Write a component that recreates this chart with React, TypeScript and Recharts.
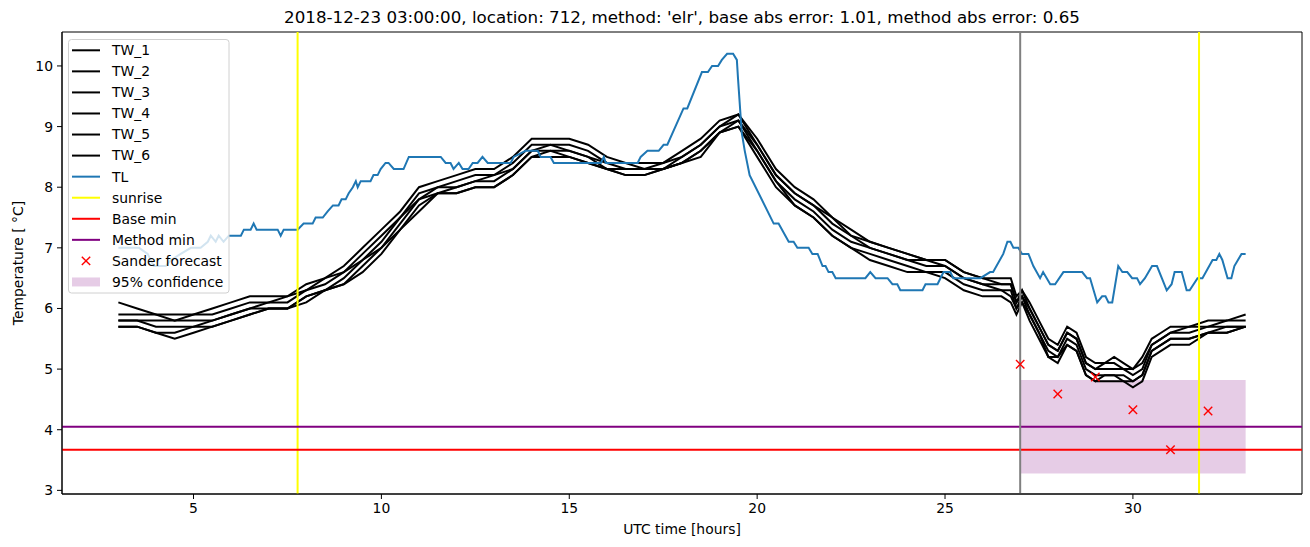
import React from "react";
import {
  ComposedChart,
  Line,
  Scatter,
  XAxis,
  YAxis,
  ReferenceLine,
  ReferenceArea,
} from "recharts";

// ─── Data ────────────────────────────────────────────────────────────────────

const FONT = "DejaVu Sans";

const xTicks = [5, 10, 15, 20, 25, 30];
const yTicks = [3, 4, 5, 6, 7, 8, 9, 10];

// TL: air temperature
const tlHours = [
  3.0, 3.28, 3.55, 3.78, 3.94, 4.26, 4.4, 4.66, 4.93, 5.19, 5.38, 5.46, 5.59, 5.67, 5.8, 5.94,
  6.26, 6.34, 6.52, 6.6, 6.68, 7.24, 7.32, 7.4, 7.77, 7.93, 8.17, 8.25, 8.44, 8.57, 8.71, 8.86,
  8.94, 9.05, 9.13, 9.24, 9.32, 9.37, 9.45, 9.71, 9.79, 9.9, 9.98, 10.11, 10.19, 10.33, 10.59,
  10.73, 11.58, 11.71, 11.84, 11.92, 12.06, 12.16, 12.32, 12.43, 12.56, 12.69, 12.83, 13.44,
  13.52, 13.84, 14.16, 14.24, 14.5, 14.59, 15.84, 15.92, 15.97, 16.82, 16.9, 17.08, 17.38, 17.51,
  17.61, 18.04, 18.14, 18.53, 18.69, 18.8, 18.96, 19.06, 19.2, 19.36, 19.46, 19.49, 19.59, 19.67,
  19.8, 20.44, 20.57, 20.84, 20.97, 21.07, 21.37, 21.47, 21.61, 21.74, 21.82, 21.9, 22.0, 22.09,
  22.88, 23.01, 23.15, 23.47, 23.6, 23.73, 23.81, 24.4, 24.48, 24.8, 24.96, 25.14, 25.22, 25.94,
  26.2, 26.28, 26.55, 26.66, 26.74, 26.82, 26.95, 27.05, 27.22, 27.35, 27.53, 27.61, 27.8, 27.93,
  28.15, 28.65, 28.78, 28.86, 29.05, 29.18, 29.27, 29.35, 29.45, 29.61, 29.72, 29.85, 29.98,
  30.11, 30.19, 30.32, 30.51, 30.64, 30.77, 30.9, 31.03, 31.11, 31.3, 31.43, 31.51, 31.72, 31.85,
  32.12, 32.22, 32.3, 32.38, 32.52, 32.62, 32.7, 32.89, 33.0,
];
const tlValues = [
  7.0, 7.0, 7.0, 6.9, 6.7, 6.7, 6.8, 6.9, 7.0, 7.0, 7.1, 7.2, 7.1, 7.2, 7.1, 7.2,
  7.2, 7.3, 7.3, 7.4, 7.3, 7.3, 7.2, 7.3, 7.3, 7.4, 7.4, 7.5, 7.5, 7.6, 7.7, 7.7,
  7.8, 7.8, 7.9, 8.0, 8.1, 8.0, 8.1, 8.1, 8.2, 8.2, 8.3, 8.4, 8.4, 8.3, 8.3,
  8.5, 8.5, 8.4, 8.4, 8.3, 8.4, 8.3, 8.3, 8.4, 8.4, 8.5, 8.4, 8.4,
  8.5, 8.6, 8.6, 8.5, 8.5, 8.4, 8.4, 8.5, 8.4, 8.4, 8.5, 8.6, 8.6, 8.7,
  8.7, 9.3, 9.3, 9.9, 9.9, 10.0, 10.0, 10.1, 10.2, 10.2, 10.1, 9.8, 8.9, 8.6,
  8.2, 7.4, 7.4, 7.1, 7.1, 7.0, 7.0, 6.9, 6.9, 6.7, 6.7, 6.6, 6.6, 6.5,
  6.5, 6.6, 6.5, 6.5, 6.4, 6.4, 6.3, 6.3, 6.4, 6.4, 6.6, 6.6, 6.5, 6.5,
  6.6, 6.6, 6.9, 7.1, 7.1, 7.0, 7.0, 6.9, 6.9, 6.7, 6.5, 6.6, 6.4, 6.4,
  6.6, 6.6, 6.5, 6.5, 6.1, 6.2, 6.2, 6.1, 6.1, 6.7, 6.6, 6.6, 6.5,
  6.5, 6.4, 6.5, 6.7, 6.7, 6.5, 6.3, 6.4, 6.6, 6.6, 6.3, 6.3, 6.5, 6.5,
  6.8, 6.8, 6.9, 6.8, 6.5, 6.5, 6.7, 6.9, 6.9,
];

// TW_1 … TW_6: road temperatures
const twHours = [
  3, 3.5, 4, 4.5, 5, 5.5, 6, 6.5, 7, 7.5, 8, 8.5, 9, 9.5, 10, 10.5, 11, 11.5, 12, 12.5, 13, 13.5,
  14, 14.5, 15, 15.5, 16, 16.5, 17, 17.5, 18, 18.5, 19, 19.5, 20, 20.5, 21, 21.5, 22, 22.5, 23,
  23.5, 24, 24.5, 25, 25.5, 26, 26.5, 26.75, 26.9, 27.05, 27.25, 27.5, 27.75, 28, 28.25, 28.5,
  28.75, 29, 29.25, 29.5, 29.75, 30, 30.25, 30.5, 30.75, 31, 31.5, 32, 32.5, 33,
];
const tw1 = [
  6.1, 6.0, 5.9, 5.9, 5.9, 6.0, 6.1, 6.2, 6.2, 6.2, 6.4, 6.5, 6.7, 7.0, 7.3, 7.6, 8.0, 8.1, 8.2, 8.3, 8.3, 8.5,
  8.8, 8.8, 8.8, 8.7, 8.5, 8.4, 8.4, 8.4, 8.6, 8.8, 9.1, 9.2, 8.8, 8.3, 8.0, 7.8, 7.5, 7.3, 7.1,
  7.0, 6.9, 6.8, 6.8, 6.6, 6.5, 6.5, 6.5, 6.2, 6.3, 6.1, 5.8, 5.5, 5.4, 5.7, 5.6,
  5.2, 5.1, 5.1, 5.2, 5.1, 5.0, 5.2, 5.5, 5.6, 5.7, 5.7, 5.8, 5.8, 5.9,
];
const tw2 = [
  5.9, 5.9, 5.9, 5.8, 5.9, 5.9, 6.0, 6.1, 6.1, 6.2, 6.3, 6.5, 6.6, 6.9, 7.2, 7.5, 7.9, 8.0, 8.1, 8.2, 8.2, 8.4,
  8.7, 8.7, 8.7, 8.6, 8.4, 8.4, 8.3, 8.4, 8.5, 8.7, 9.0, 9.2, 8.7, 8.2, 7.9, 7.7, 7.5, 7.2, 7.1,
  7.0, 6.9, 6.8, 6.8, 6.6, 6.5, 6.4, 6.4, 6.1, 6.3, 6.0, 5.7, 5.4, 5.3, 5.6, 5.5,
  5.1, 5.0, 5.1, 5.1, 5.0, 5.0, 5.1, 5.4, 5.5, 5.6, 5.7, 5.7, 5.8, 5.8,
];
const tw3 = [
  5.8, 5.8, 5.8, 5.8, 5.8, 5.8, 5.9, 6.0, 6.1, 6.1, 6.3, 6.4, 6.6, 6.8, 7.1, 7.5, 7.8, 8.0, 8.0, 8.1, 8.2, 8.3,
  8.6, 8.7, 8.6, 8.5, 8.4, 8.3, 8.3, 8.3, 8.5, 8.7, 9.0, 9.1, 8.7, 8.2, 7.9, 7.7, 7.4, 7.2, 7.0,
  6.9, 6.8, 6.8, 6.7, 6.5, 6.4, 6.4, 6.4, 6.1, 6.2, 6.0, 5.7, 5.4, 5.3, 5.6, 5.5,
  5.1, 5.0, 5.0, 5.0, 5.0, 4.9, 5.0, 5.4, 5.5, 5.6, 5.6, 5.7, 5.7, 5.7,
];
const tw4 = [
  5.8, 5.8, 5.7, 5.7, 5.7, 5.8, 5.9, 6.0, 6.0, 6.0, 6.2, 6.3, 6.5, 6.8, 7.0, 7.4, 7.8, 7.9, 8.0, 8.1, 8.1, 8.3,
  8.6, 8.6, 8.6, 8.5, 8.3, 8.3, 8.3, 8.3, 8.4, 8.6, 8.9, 9.1, 8.6, 8.1, 7.8, 7.6, 7.3, 7.1, 7.0,
  6.9, 6.8, 6.7, 6.7, 6.5, 6.4, 6.3, 6.3, 6.0, 6.2, 5.9, 5.6, 5.3, 5.2, 5.5, 5.4,
  5.0, 4.9, 4.9, 4.9, 4.9, 4.8, 4.9, 5.3, 5.4, 5.5, 5.5, 5.6, 5.7, 5.7,
];
const tw5 = [
  5.7, 5.7, 5.6, 5.6, 5.7, 5.7, 5.8, 5.9, 6.0, 6.0, 6.2, 6.3, 6.4, 6.7, 7.0, 7.3, 7.7, 7.9, 7.9, 8.0, 8.0, 8.2,
  8.5, 8.6, 8.5, 8.4, 8.3, 8.2, 8.2, 8.3, 8.4, 8.6, 8.9, 9.0, 8.6, 8.1, 7.7, 7.5, 7.2, 7.0, 6.9,
  6.8, 6.7, 6.6, 6.6, 6.4, 6.3, 6.3, 6.2, 6.0, 6.1, 5.9, 5.6, 5.2, 5.2, 5.4, 5.3,
  4.9, 4.8, 4.9, 4.9, 4.8, 4.8, 4.9, 5.3, 5.4, 5.5, 5.5, 5.6, 5.6, 5.7,
];
const tw6 = [
  5.7, 5.7, 5.6, 5.5, 5.6, 5.7, 5.8, 5.9, 6.0, 6.0, 6.1, 6.3, 6.4, 6.6, 6.9, 7.3, 7.6, 7.9, 7.9, 8.0, 8.0, 8.2,
  8.5, 8.5, 8.5, 8.4, 8.3, 8.2, 8.2, 8.3, 8.4, 8.5, 8.9, 9.0, 8.5, 8.0, 7.7, 7.5, 7.2, 7.0, 6.8,
  6.7, 6.6, 6.6, 6.5, 6.3, 6.2, 6.2, 6.1, 5.9, 6.1, 5.8, 5.5, 5.2, 5.1, 5.4, 5.3,
  4.9, 4.8, 4.8, 4.8, 4.8, 4.7, 4.8, 5.2, 5.3, 5.4, 5.4, 5.6, 5.6, 5.7,
];

// Sander forecast (red x markers)
const forecastHours = [27, 28, 29, 30, 31, 32];
const forecastValues = [5.08, 4.59, 4.87, 4.33, 3.67, 4.31];

const sunriseHours = [7.77, 31.76];
const forecastStart = 27;
const baseMin = 3.67;
const methodMin = 4.05;
const confidence = { from: 27, to: 33, low: 3.28, high: 4.82 };

const xDomain: [number, number] = [1.5, 34.5];
const yDomain: [number, number] = [2.94, 10.56];

const TL_COLOR = "#1f77b4";

const toPoints = (xs: number[], ys: number[]) => xs.map((x, i) => ({ x, y: ys[i] }));

const twSeries = [tw1, tw2, tw3, tw4, tw5, tw6].map((vals, i) => ({
  name: `TW_${i + 1}`,
  points: toPoints(twHours, vals),
}));

// ─── Marker ──────────────────────────────────────────────────────────────────

function XMarker(props: any) {
  const { cx, cy } = props;
  if (cx == null || cy == null) return null;
  const r = 4.2;
  return (
    <g>
      <line x1={cx - r} y1={cy - r} x2={cx + r} y2={cy + r} stroke="#ff0000" strokeWidth={1.4} />
      <line x1={cx - r} y1={cy + r} x2={cx + r} y2={cy - r} stroke="#ff0000" strokeWidth={1.4} />
    </g>
  );
}

// ─── Legend overlay ──────────────────────────────────────────────────────────

const legendItems: { label: string; kind: "line" | "x" | "patch"; color: string }[] = [
  { label: "TW_1", kind: "line", color: "#000000" },
  { label: "TW_2", kind: "line", color: "#000000" },
  { label: "TW_3", kind: "line", color: "#000000" },
  { label: "TW_4", kind: "line", color: "#000000" },
  { label: "TW_5", kind: "line", color: "#000000" },
  { label: "TW_6", kind: "line", color: "#000000" },
  { label: "TL", kind: "line", color: TL_COLOR },
  { label: "sunrise", kind: "line", color: "#ffff00" },
  { label: "Base min", kind: "line", color: "#ff0000" },
  { label: "Method min", kind: "line", color: "#800080" },
  { label: "Sander forecast", kind: "x", color: "#ff0000" },
  { label: "95% confidence", kind: "patch", color: "#800080" },
];

function Overlay() {
  const rowY = (i: number) => 50.3 + i * 21.06;
  return (
    <svg
      width={1310}
      height={547}
      style={{ position: "absolute", left: 0, top: 0, pointerEvents: "none" }}
      fontFamily={FONT}
    >
      {/* Title */}
      <text x={682} y={17} dy="0.35em" textAnchor="middle" fontSize={16.7} fill="#000">
        2018-12-23 03:00:00, location: 712, method: 'elr', base abs error: 1.01, method abs error: 0.65
      </text>
      {/* Axis labels */}
      <text x={682} y={529} dy="0.35em" textAnchor="middle" fontSize={13.9} fill="#000">
        UTC time [hours]
      </text>
      <text
        x={18}
        y={263}
        dy="0.35em"
        textAnchor="middle"
        fontSize={13.9}
        fill="#000"
        transform="rotate(-90, 18, 263)"
      >
        Temperature [ °C]
      </text>

      {/* Legend */}
      <rect
        x={68.5}
        y={39.5}
        width={160.5}
        height={253.5}
        rx={3}
        fill="#ffffff"
        fillOpacity={0.8}
        stroke="#d0d0d0"
      />
      {legendItems.map((it, i) => {
        const y = rowY(i);
        return (
          <g key={it.label}>
            {it.kind === "line" && (
              <line x1={72} y1={y} x2={100} y2={y} stroke={it.color} strokeWidth={2} />
            )}
            {it.kind === "x" && <XMarker cx={86} cy={y} />}
            {it.kind === "patch" && (
              <rect x={72} y={y - 4.5} width={28} height={9} fill={it.color} fillOpacity={0.2} />
            )}
            <text x={112} y={y} dy="0.35em" fontSize={13.9} fill="#000">
              {it.label}
            </text>
          </g>
        );
      })}
    </svg>
  );
}

// ─── Main component ──────────────────────────────────────────────────────────

export default function App() {
  const tick = { fill: "#000", fontSize: 13.9, fontFamily: FONT };
  return (
    <div style={{ position: "absolute", left: 0, top: 0, width: 1310, height: 547, background: "#fff" }}>
      <ComposedChart width={1310} height={547} margin={{ top: 32, right: 8, bottom: 0, left: 0 }}>
        <XAxis
          type="number"
          dataKey="x"
          domain={xDomain}
          ticks={xTicks}
          interval={0}
          allowDataOverflow
          height={53}
          tickSize={5}
          tickMargin={4}
          tick={tick}
          axisLine={{ stroke: "#000" }}
          tickLine={{ stroke: "#000" }}
        />
        <YAxis
          type="number"
          domain={yDomain}
          ticks={yTicks}
          interval={0}
          allowDataOverflow
          width={62}
          tickSize={5}
          tickMargin={4}
          tick={tick}
          axisLine={{ stroke: "#000" }}
          tickLine={{ stroke: "#000" }}
        />

        {/* 95% confidence band */}
        <ReferenceArea
          x1={confidence.from}
          x2={confidence.to}
          y1={confidence.low}
          y2={confidence.high}
          fill="#800080"
          fillOpacity={0.2}
          stroke="none"
        />

        {twSeries.map((s) => (
          <Line
            key={s.name}
            data={s.points}
            dataKey="y"
            name={s.name}
            type="linear"
            stroke="#000000"
            strokeWidth={2}
            dot={false}
            activeDot={false}
            isAnimationActive={false}
          />
        ))}
        <Line
          data={toPoints(tlHours, tlValues)}
          dataKey="y"
          name="TL"
          type="linear"
          stroke={TL_COLOR}
          strokeWidth={2}
          dot={false}
          activeDot={false}
          isAnimationActive={false}
        />

        {sunriseHours.map((h) => (
          <ReferenceLine key={h} x={h} stroke="#ffff00" strokeWidth={2} />
        ))}
        <ReferenceLine y={baseMin} stroke="#ff0000" strokeWidth={2} />
        <ReferenceLine y={methodMin} stroke="#800080" strokeWidth={2} />
        <ReferenceLine x={forecastStart} stroke="#808080" strokeWidth={2} />

        <Scatter
          data={toPoints(forecastHours, forecastValues)}
          dataKey="y"
          name="Sander forecast"
          shape={XMarker}
          isAnimationActive={false}
        />

        {/* axes frame */}
        <ReferenceArea
          x1={xDomain[0]}
          x2={xDomain[1]}
          y1={yDomain[0]}
          y2={yDomain[1]}
          fill="none"
          stroke="#000"
          strokeWidth={1}
          ifOverflow="visible"
        />
      </ComposedChart>
      <Overlay />
    </div>
  );
}
